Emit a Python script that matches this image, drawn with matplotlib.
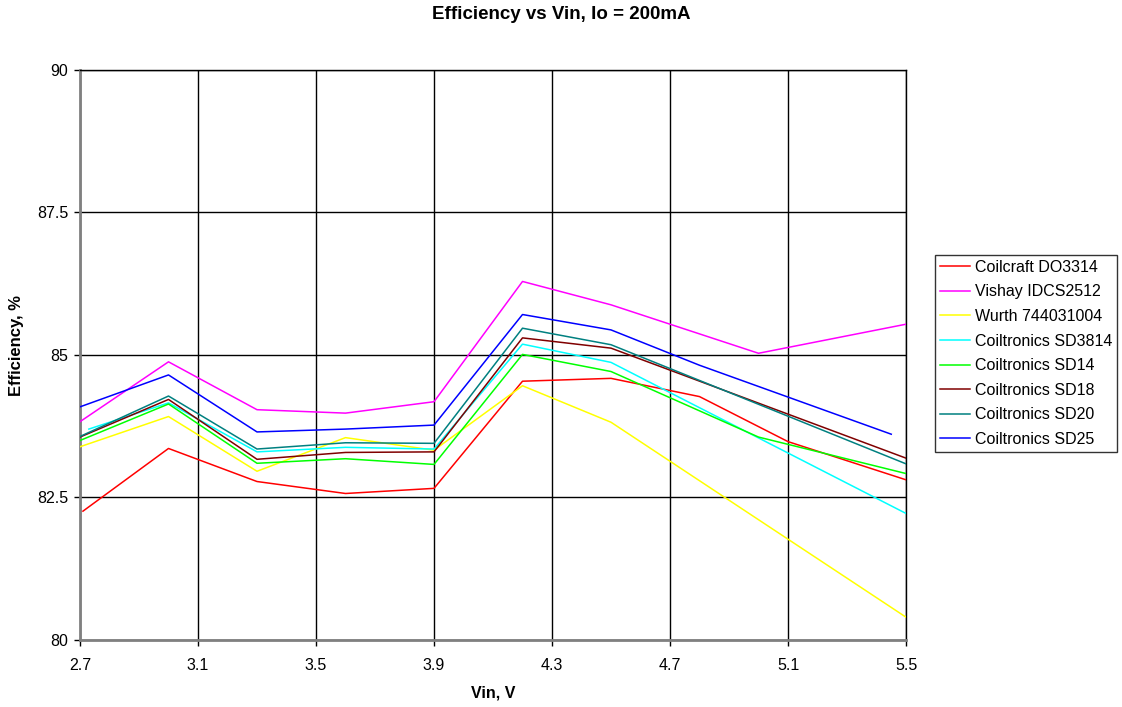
import numpy as np
from matplotlib import pyplot


TITLE = 'Efficiency vs Vin, Io = 200mA'

# Excel style xy-scatter series, each with its own Vin points
coilcraft_do3314_vin = [2.71, 3.0, 3.3, 3.6, 3.9, 4.2, 4.5, 4.8, 5.1, 5.5]
coilcraft_do3314_eff = [82.26, 83.36, 82.78, 82.57, 82.66, 84.54, 84.59, 84.27, 83.48, 82.81]

vishay_idcs2512_vin = [2.7, 3.0, 3.3, 3.6, 3.9, 4.2, 4.5, 5.0, 5.5]
vishay_idcs2512_eff = [83.83, 84.88, 84.04, 83.98, 84.18, 86.29, 85.88, 85.03, 85.54]

wurth_744031004_vin = [2.7, 3.0, 3.3, 3.6, 3.9, 4.2, 4.5, 5.5]
wurth_744031004_eff = [83.39, 83.92, 82.96, 83.55, 83.33, 84.46, 83.82, 80.40]

sd3814_vin = [2.73, 3.0, 3.3, 3.6, 3.9, 4.2, 4.5, 5.5]
sd3814_eff = [83.70, 84.16, 83.30, 83.38, 83.35, 85.19, 84.87, 82.22]

sd14_vin = [2.7, 3.0, 3.3, 3.6, 3.9, 4.2, 4.5, 5.0, 5.5]
sd14_eff = [83.50, 84.14, 83.10, 83.18, 83.08, 85.01, 84.71, 83.56, 82.92]

sd18_vin = [2.7, 3.0, 3.3, 3.6, 3.9, 4.2, 4.5, 5.5]
sd18_eff = [83.56, 84.22, 83.17, 83.29, 83.30, 85.30, 85.12, 83.19]

sd20_vin = [2.7, 3.0, 3.3, 3.6, 3.9, 4.2, 4.5, 5.5]
sd20_eff = [83.57, 84.28, 83.35, 83.46, 83.45, 85.47, 85.18, 83.09]

sd25_vin = [2.7, 3.0, 3.3, 3.6, 3.9, 4.2, 4.5, 4.8, 5.45]
sd25_eff = [84.09, 84.65, 83.65, 83.70, 83.77, 85.71, 85.44, 84.82, 83.61]

x_ticks = [2.7, 3.1, 3.5, 3.9, 4.3, 4.7, 5.1, 5.5]
y_ticks = [80, 82.5, 85, 87.5, 90]


def main():
    pyplot.rcParams['font.family'] = ['Liberation Sans', 'DejaVu Sans']

    series = [
        ('Coilcraft DO3314', coilcraft_do3314_vin, coilcraft_do3314_eff, '#FF0000'),
        ('Vishay IDCS2512', vishay_idcs2512_vin, vishay_idcs2512_eff, '#FF00FF'),
        ('Wurth 744031004', wurth_744031004_vin, wurth_744031004_eff, '#FFFF00'),
        ('Coiltronics SD3814', sd3814_vin, sd3814_eff, '#00FFFF'),
        ('Coiltronics SD14', sd14_vin, sd14_eff, '#00FF00'),
        ('Coiltronics SD18', sd18_vin, sd18_eff, '#800000'),
        ('Coiltronics SD20', sd20_vin, sd20_eff, '#008080'),
        ('Coiltronics SD25', sd25_vin, sd25_eff, '#0000FF'),
    ]

    fig = pyplot.figure(figsize=(11.22, 7.07), dpi=100)
    axes = fig.add_axes([0.0713, 0.0948, 0.7362, 0.8062])

    for label, vin, eff, color in series:
        axes.plot(np.array(vin), np.array(eff), color=color, linewidth=1.1,
                  label=label, zorder=3)

    axes.set_xlim(2.7, 5.5)
    axes.set_ylim(80, 90)
    axes.set_xticks(x_ticks)
    axes.set_yticks(y_ticks)
    axes.set_xticklabels(['{:g}'.format(t) for t in x_ticks])
    axes.set_yticklabels(['{:g}'.format(t) for t in y_ticks])
    axes.grid(True, color='black', linewidth=1.0, zorder=1)
    axes.set_axisbelow(True)

    for side in ('left', 'bottom'):
        axes.spines[side].set_color('#808080')
        axes.spines[side].set_linewidth(2.0)
    for side in ('top', 'right'):
        axes.spines[side].set_color('black')
        axes.spines[side].set_linewidth(1.0)

    axes.tick_params(axis='both', direction='out', length=4, width=1,
                     color='black', labelsize=11.5)
    axes.tick_params(axis='y', pad=4.5)
    axes.tick_params(axis='x', pad=9)

    axes.set_xlabel('Vin, V', fontsize=11.5, fontweight='bold')
    axes.xaxis.set_label_coords(0.5, -0.08)
    axes.set_ylabel('Efficiency, %', fontsize=12, fontweight='bold')
    axes.yaxis.set_label_coords(-0.068, 0.516)
    fig.text(0.5, 0.979, TITLE, ha='center', va='center',
             fontsize=13.5, fontweight='bold')

    legend = axes.legend(loc='upper left', bbox_to_anchor=(0.8333, 0.6393),
                         bbox_transform=fig.transFigure, fontsize=11.5,
                         frameon=True, fancybox=False, handlelength=1.9,
                         labelspacing=0.6, borderpad=0.3, handletextpad=0.3,
                         borderaxespad=0)
    legend.get_frame().set_edgecolor('black')
    legend.get_frame().set_linewidth(1.0)

    fig.savefig('out.png', dpi=100)


if __name__ == '__main__':
    main()
